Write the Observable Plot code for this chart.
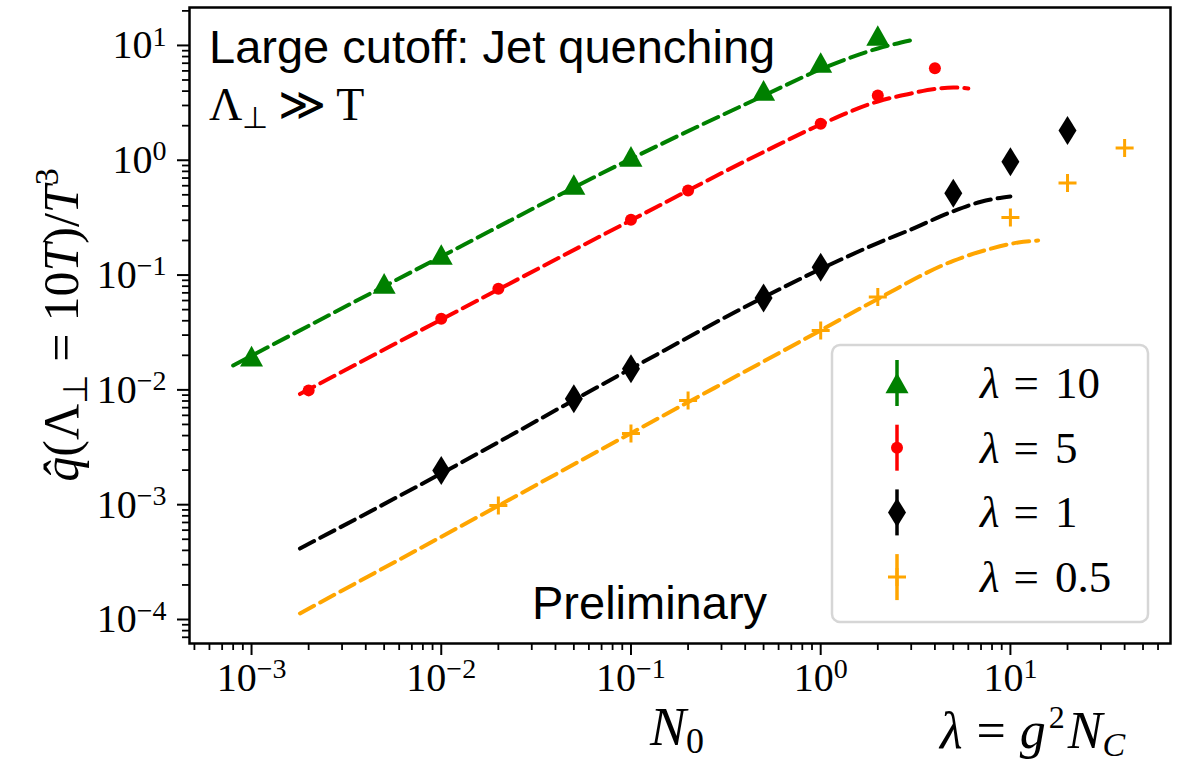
<!DOCTYPE html>
<html><head><meta charset="utf-8">
<script src="https://cdn.jsdelivr.net/npm/d3@7"></script>
<script src="https://cdn.jsdelivr.net/npm/@observablehq/plot@0.6"></script>
<style>body{margin:0;background:#fff}</style>
</head><body><div id="chart"></div>
<script>
// ---- series meta ----
const seriesLambda = ["10", "5", "1", "0.5"];
const seriesColors = ["#008000", "#ff0000", "#000000", "#ffa500"];

// ---- measured points (N0, qhat/T^3) ----
const n0_l10 = [0.001, 0.005, 0.01, 0.05, 0.1, 0.5, 1, 2];
const q_l10  = [0.0197, 0.0845, 0.151, 0.615, 1.08, 4.06, 7.1, 12.2];
const n0_l5  = [0.002, 0.01, 0.02, 0.1, 0.2, 1, 2, 4];
const q_l5   = [0.0099, 0.0416, 0.076, 0.303, 0.546, 2.08, 3.66, 6.34];
const n0_l1  = [0.01, 0.05, 0.1, 0.5, 1, 5, 10, 20];
const q_l1   = [0.00199, 0.00836, 0.0153, 0.063, 0.117, 0.517, 0.97, 1.82];
const n0_l05 = [0.02, 0.1, 0.2, 1, 2, 10, 20, 40];
const q_l05  = [0.000984, 0.00417, 0.00809, 0.0329, 0.0643, 0.318, 0.633, 1.28];

// ---- dashed fit curves ----
const fitN0_l10 = [0.0008, 0.01, 0.1, 0.5, 1, 2, 3];
const fitQ_l10  = [0.0163, 0.145, 1.03, 3.65, 6.2, 9.4, 11.1];
const fitN0_l5  = [0.0018, 0.01, 0.1, 0.5, 1, 2, 3, 4, 5, 6];
const fitQ_l5   = [0.0092, 0.041, 0.30, 1.18, 2.05, 3.25, 3.82, 4.18, 4.3, 4.22];
const fitN0_l1  = [0.0018, 0.01, 0.1, 0.5, 1, 2, 3, 5, 7, 10];
const fitQ_l1   = [0.000415, 0.00187, 0.0153, 0.064, 0.113, 0.19, 0.25, 0.36, 0.435, 0.484];
const fitN0_l05 = [0.0018, 0.02, 0.1, 1, 2, 5, 8, 11, 14];
const fitQ_l05  = [0.000113, 0.00098, 0.0042, 0.033, 0.062, 0.133, 0.171, 0.192, 0.2];

// ---- ticks ----
const xMajor = [1e-3, 1e-2, 1e-1, 1, 10];
const yMajor = [1e-4, 1e-3, 1e-2, 1e-1, 1, 10];

// ---- text ----
const titleLine1 = "Large cutoff: Jet quenching";
const previewText = "Preliminary";

// ---- layout ----
const W = 1184, H = 763;
const ML = 189, MR = 14, MT = 7, MB = 120;
const xDomain = [4.71e-4, 69.8];
const yDomain = [6.18e-5, 21.4];

function minorTicks(domain) {
  const out = [];
  for (let k = -6; k <= 3; k++) for (let m = 2; m <= 9; m++) {
    const v = m * Math.pow(10, k);
    if (v >= domain[0] && v <= domain[1]) out.push(v);
  }
  return out;
}
const xMinor = minorTicks(xDomain), yMinor = minorTicks(yDomain);

// ---- marker symbols ----
const triUp = {draw(ctx, size) { const r = Math.sqrt(size / Math.PI);
  ctx.moveTo(0, -0.9 * r); ctx.lineTo(r, 0.9 * r); ctx.lineTo(-r, 0.9 * r); ctx.closePath(); }};
const thinDiamond = {draw(ctx, size) { const r = Math.sqrt(size / Math.PI);
  ctx.moveTo(0, -r); ctx.lineTo(0.62 * r, 0); ctx.lineTo(0, r); ctx.lineTo(-0.62 * r, 0); ctx.closePath(); }};
const plusSym = {draw(ctx, size) { const r = Math.sqrt(size / Math.PI);
  ctx.moveTo(-r, 0); ctx.lineTo(r, 0); ctx.moveTo(0, -r); ctx.lineTo(0, r); }};
const dotSym = {draw(ctx, size) { const r = Math.sqrt(size / Math.PI);
  ctx.moveTo(r, 0); ctx.arc(0, 0, r, 0, 2 * Math.PI); }};

const zip = (a, b) => a.map((v, i) => ({N0: v, q: b[i]}));
const series = [
  {pts: zip(n0_l10, q_l10), fit: zip(fitN0_l10, fitQ_l10), sym: triUp, r: 11.5, filled: true},
  {pts: zip(n0_l5, q_l5), fit: zip(fitN0_l5, fitQ_l5), sym: dotSym, r: 6, filled: true},
  {pts: zip(n0_l1, q_l1), fit: zip(fitN0_l1, fitQ_l1), sym: thinDiamond, r: 14.5, filled: true},
  {pts: zip(n0_l05, q_l05), fit: zip(fitN0_l05, fitQ_l05), sym: plusSym, r: 9, filled: false}
].map((s, i) => ({...s, color: seriesColors[i], lambda: seriesLambda[i]}));

const expFmt = d => String(Math.round(Math.log10(d)));

const marks = [
  Plot.axisX({ticks: xMinor, tickSize: 7, tickFormat: () => "", strokeWidth: 1.8, label: null}),
  Plot.axisX({ticks: xMajor, tickSize: 12, tickPadding: 7, tickFormat: expFmt, fontSize: 40,
    fontFamily: "Liberation Serif", strokeWidth: 2, label: null}),
  Plot.axisY({ticks: yMinor, tickSize: 7, tickFormat: () => "", strokeWidth: 1.8, label: null}),
  Plot.axisY({ticks: yMajor, tickSize: 12, tickPadding: 11, tickFormat: expFmt, fontSize: 40,
    fontFamily: "Liberation Serif", strokeWidth: 2, label: null}),
  ...series.map(s => Plot.line(s.fit, {x: "N0", y: "q", stroke: s.color, strokeWidth: 4,
    strokeDasharray: "16,7", curve: "monotone-x"})),
  ...series.map(s => Plot.dot(s.pts, {x: "N0", y: "q", symbol: s.sym, r: s.r,
    fill: s.filled ? s.color : "none", stroke: s.filled ? "none" : s.color, strokeWidth: s.filled ? 0 : 3})),
  Plot.frame({stroke: "black", strokeWidth: 2.5})
];

const svg = Plot.plot({
  width: W, height: H,
  marginLeft: ML, marginRight: MR, marginTop: MT, marginBottom: MB,
  x: {type: "log", domain: xDomain},
  y: {type: "log", domain: yDomain},
  style: {background: "white", fontFamily: "Liberation Serif", overflow: "visible"},
  marks
});
document.getElementById("chart").appendChild(svg);

const S = d3.select(svg);
// superscript tick labels 10^k
S.selectAll('g[aria-label="y-axis tick label"] text, g[aria-label="x-axis tick label"] text').each(function () {
  const e = this.textContent;
  if (e === "") return;
  const t = d3.select(this);
  t.text(null);
  t.append("tspan").text("10");
  t.append("tspan").attr("dy", "-0.45em").attr("font-size", "0.7em").text(e.replace("-", "−"));
});

// helper for rich text
function rich(x, y, parts, opts = {}) {
  const t = S.append("text").attr("x", x).attr("y", y)
    .attr("font-family", opts.family || "Liberation Serif")
    .attr("font-size", opts.size || 40).attr("fill", "black")
    .attr("text-anchor", opts.anchor || "start");
  if (opts.transform) t.attr("transform", opts.transform).attr("x", 0).attr("y", 0);
  for (const p of parts) {
    const ts = t.append("tspan").text(p.t);
    if (p.italic) ts.attr("font-style", "italic");
    if (p.size) ts.attr("font-size", p.size);
    if (p.dy) ts.attr("dy", p.dy);
    if (p.dx) ts.attr("dx", p.dx);
    if (p.family) ts.attr("font-family", p.family);
  }
  return t;
}

// y-axis label  q̂(Λ⊥ = 10T)/T³
rich(0, 0, [
  {t: "q̂", italic: true},
  {t: "(Λ"},
  {t: "⊥", size: 34, dy: 9},
  {t: "=", dy: -9, dx: 12},
  {t: "10", dx: 12},
  {t: "T", italic: true},
  {t: ")/"},
  {t: "T", italic: true},
  {t: "3", size: 34, dy: -20}
], {size: 50, anchor: "middle", transform: "translate(78,325) rotate(-90)"});

// x-axis label N0
rich(677, 745, [
  {t: "N", italic: true},
  {t: "0", size: 36, dy: 8}
], {size: 54, anchor: "middle"});

// λ = g²N_C
rich(940, 748, [
  {t: "λ", italic: true},
  {t: "=", dx: 14},
  {t: "g", italic: true, dx: 14},
  {t: "2", size: 32, dy: -20, dx: 3},
  {t: "N", italic: true, dy: 20, dx: 3},
  {t: "C", italic: true, size: 34, dy: 8}
], {size: 52});

// annotations
rich(209, 63, [{t: titleLine1}], {family: "Liberation Sans", size: 47});
rich(209, 120, [
  {t: "Λ"},
  {t: "⊥", size: 30, dy: 8},
  {t: "≫", dy: -8, dx: 10},
  {t: "T", dx: 10}
], {size: 46});
rich(532, 619, [{t: previewText}], {family: "Liberation Sans", size: 47});

// legend
const lg = S.append("g");
lg.append("rect").attr("x", 832).attr("y", 345).attr("width", 316).attr("height", 277)
  .attr("rx", 8).attr("fill", "white").attr("fill-opacity", 0.8)
  .attr("stroke", "#d6d6d6").attr("stroke-width", 2.5);
series.forEach((s, i) => {
  const cy = 383 + i * 64.7, cx = 897;
  lg.append("line").attr("x1", cx).attr("x2", cx).attr("y1", cy - 23).attr("y2", cy + 23)
    .attr("stroke", s.color).attr("stroke-width", 3.5);
  lg.append("path").attr("transform", `translate(${cx},${cy})`)
    .attr("d", d3.symbol(s.sym, Math.PI * s.r * s.r)())
    .attr("fill", s.filled ? s.color : "none").attr("stroke", s.filled ? "none" : s.color)
    .attr("stroke-width", 3);
  const t = lg.append("text").attr("x", 980).attr("y", cy + 15).attr("text-anchor", "start")
    .attr("font-family", "Liberation Serif").attr("font-size", 45).attr("fill", "black");
  t.append("tspan").attr("font-style", "italic").text("λ");
  t.append("tspan").attr("dx", 14).text("=");
  t.append("tspan").attr("dx", 16).text(s.lambda);
});
</script>
</body></html>
